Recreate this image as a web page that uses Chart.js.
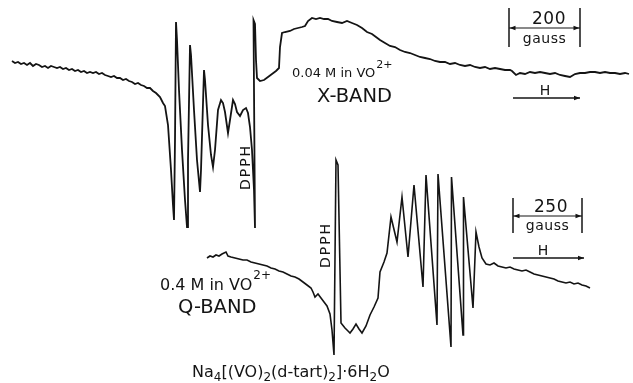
<!DOCTYPE html>
<html>
<head>
<meta charset="utf-8">
<script src="https://cdn.jsdelivr.net/npm/chart.js@4/dist/chart.umd.min.js"></script>
<style>
html,body{margin:0;padding:0;background:#fff;}
#wrap{width:633px;height:383px;}
</style>
</head>
<body>
<div id="wrap"><canvas id="c" width="633" height="383"></canvas></div>
<script>
// X-band trace (field position, signal; arbitrary chart units)
const xbandX = [12,15,18,21,24,27,30,33,36,39,42,45,48,51,54,57,60,63,66,69,72,75,78,81,84,87,90,93,96,99,102,105,108,111,114,117,120,123,126,129,132,135,138,141,144,147,150,153,156,160,163,165,
168,171,173,174,175,176,177,179,182,185,187,188,190,191,194,197,200,201,204,205,208,211,213,215,218,221,223,225,228,230,233,235,237,240,243,246,248,250,252,254,255,253.5,255,256,257,260,264,268,272,276,279,280,282,285,290,294,298,302,305,308,312,316,320,324,328,332,337,342,347,352,357,362,367,372,376,380,385,390,395,400,405,410,415,420,425,430,435,440,445,450,455,460,465,470,475,480,485,490,495,500,505,508,510,512,516,520,525,530,535,540,545,550,555,560,565,570,575,580,585,590,595,600,605,610,615,620,625,629];
const xbandY = [61,63,62,64,63,65,63,66,64,65,67,66,68,66,67,68,67,69,68,70,69,71,70,72,71,73,72,73,72,74,73,75,76,77,76,78,78,80,79,81,82,84,83,85,86,88,88,91,93,97,103,106,
125,170,205,220,140,22,40,90,150,200,227,160,45,55,110,160,192,170,70,80,125,155,167,150,110,100,103,112,133,120,100,104,112,116,110,108,113,127,150,190,228,20,24,60,78,81,80,77,74,71,68,47,33,32,31,29,28,27,26,21,18,19,18,19,19,21,22,23,21,23,25,28,32,34,37,40,43,46,47,50,52,53,55,57,58,59,61,62,62,64,63,65,66,65,67,68,67,69,68,69,70,70,70,71,75,73,74,72,73,72,73,74,73,75,76,77,74,73,73,72,72,73,72,73,73,74,73,74,75,75];

// Q-band trace
const qbandX = [207,210,213,216,219,222,226,228,231,235,239,243,247,251,255,259,263,267,271,275,279,283,287,291,295,299,303,307,311,313,315,318,321,324,327,330,332,334,336,338,341,345,348,350,353,356,359,362,366,370,374,378,380,384,387,391,397,402,408,414,423,426,437,438,451,451.5,463,463.5,473,476,479,482,486,490,494,498,502,506,510,514,518,522,526,530,534,538,542,546,550,554,558,562,566,570,574,578,582,586,590];
const qbandY = [258,256,257,255,256,254,252,256,257,258,259,260,260,262,263,264,265,266,268,269,271,272,274,276,277,279,282,285,288,292,297,294,298,302,306,314,330,355,160,165,323,328,331,333,329,324,329,333,326,315,307,298,272,262,253,217,242,197,257,185,287,175,325,174,347,177,335,197,308,232,247,258,264,265,263,266,267,268,267,269,270,271,270,272,274,275,276,277,278,279,281,282,283,282,284,283,285,286,288];

// Text labels
const xLabel = "0.04 M in VO";
const qLabel = "0.4 M in VO";
const chargeLabel = "2+";
const xBandName = "X-BAND";
const qBandName = "Q-BAND";
const refLabel = "DPPH";
const fieldLabel = "H";
const unitLabel = "gauss";
const xScaleLabel = "200";
const qScaleLabel = "250";
const compoundParts = [["Na",0],["4",1],["[(VO)",0],["2",1],["(d-tart)",0],["2",1],["]·6H",0],["2",1],["O",0]];

const INK = "#141414";
const FONT = "'DejaVu Sans', 'Liberation Sans', sans-serif";

const annot = {
  id: 'annot',
  afterDatasetsDraw(chart) {
    const ctx = chart.ctx;
    const xs = chart.scales.x, ys = chart.scales.y;
    const X = v => xs.getPixelForValue(v), Y = v => ys.getPixelForValue(v);
    ctx.save();
    ctx.fillStyle = INK; ctx.strokeStyle = INK;
    function txt(s, x, y, size, align, spacing) {
      ctx.font = size + "px " + FONT;
      ctx.letterSpacing = (spacing || 0) + "px";
      ctx.textAlign = align || "left";
      ctx.textBaseline = "alphabetic";
      ctx.fillText(s, X(x), Y(y));
      const w = ctx.measureText(s).width;
      ctx.letterSpacing = "0px";
      return w;
    }
    function labelWithCharge(s, x, y, size, supSize, rise) {
      const w = txt(s, x, y, size);
      txt(chargeLabel, x + w + 1, y - rise, supSize);
    }
    function rot(s, cx, cy, size, spacing) {
      ctx.save();
      ctx.translate(X(cx), Y(cy));
      ctx.rotate(-Math.PI / 2);
      ctx.font = size + "px " + FONT;
      ctx.letterSpacing = spacing + "px";
      ctx.textAlign = "center"; ctx.textBaseline = "middle";
      ctx.fillText(s, 0, 0);
      ctx.restore();
    }
    function line(x1, y1, x2, y2, w) {
      ctx.lineWidth = w || 1.3;
      ctx.beginPath(); ctx.moveTo(X(x1), Y(y1)); ctx.lineTo(X(x2), Y(y2)); ctx.stroke();
    }
    function head(x, y, dir) {
      ctx.beginPath();
      ctx.moveTo(X(x), Y(y));
      ctx.lineTo(X(x - dir * 6), Y(y - 2.2));
      ctx.lineTo(X(x - dir * 6), Y(y + 2.2));
      ctx.closePath(); ctx.fill();
    }
    function scaleBar(x1, x2, yt, yb, yl, label, lx, yLabel, yUnit) {
      line(x1, yt, x1, yb, 1.5);
      line(x2, yt, x2, yb, 1.5);
      line(x1, yl, x2, yl, 1.2);
      head(x1 + 0.5, yl, -1); head(x2 - 0.5, yl, 1);
      txt(label, lx, yLabel, 17, "center", 0.5);
      txt(unitLabel, (x1 + x2) / 2, yUnit, 14, "center", 0.5);
    }
    function hArrow(x1, x2, y, tx, ty) {
      line(x1, y, x2, y, 1.4);
      head(x2, y, 1);
      txt(fieldLabel, tx, ty, 14, "center");
    }
    // X-band annotations
    labelWithCharge(xLabel, 292, 77, 13, 11, 9);
    txt(xBandName, 317, 102, 19.5);
    scaleBar(509, 580, 8, 47, 28, xScaleLabel, 549, 24, 43);
    hArrow(513, 580, 98, 545, 95);
    rot(refLabel, 246, 167, 14, 2);
    // Q-band annotations
    labelWithCharge(qLabel, 160, 290, 16, 12, 11);
    txt(qBandName, 178, 313, 19.5);
    scaleBar(513, 582, 198, 233, 216, qScaleLabel, 551, 212, 230);
    hArrow(513, 584, 258, 543, 255);
    rot(refLabel, 326, 245, 14, 2);
    // compound formula
    let cx = X(192);
    const by = Y(377);
    ctx.textAlign = "left";
    for (const [s, sub] of compoundParts) {
      ctx.font = (sub ? 12 : 16) + "px " + FONT;
      ctx.fillText(s, cx, by + (sub ? 4 : 0));
      cx += ctx.measureText(s).width;
    }
    ctx.restore();
  }
};

const toPts = (xa, ya) => xa.map((x, i) => ({x: x, y: ya[i]}));

new Chart(document.getElementById('c'), {
  type: 'scatter',
  data: {
    datasets: [
      {label: 'X-band', data: toPts(xbandX, xbandY), showLine: true, borderColor: INK, borderWidth: 1.8, pointRadius: 0, tension: 0},
      {label: 'Q-band', data: toPts(qbandX, qbandY), showLine: true, borderColor: INK, borderWidth: 1.6, pointRadius: 0, tension: 0}
    ]
  },
  options: {
    responsive: false,
    animation: false,
    layout: {padding: 0},
    plugins: {legend: {display: false}, tooltip: {enabled: false}},
    scales: {
      x: {type: 'linear', min: 0, max: 633, display: false},
      y: {type: 'linear', min: 0, max: 383, reverse: true, display: false}
    }
  },
  plugins: [annot]
});
</script>
</body>
</html>
